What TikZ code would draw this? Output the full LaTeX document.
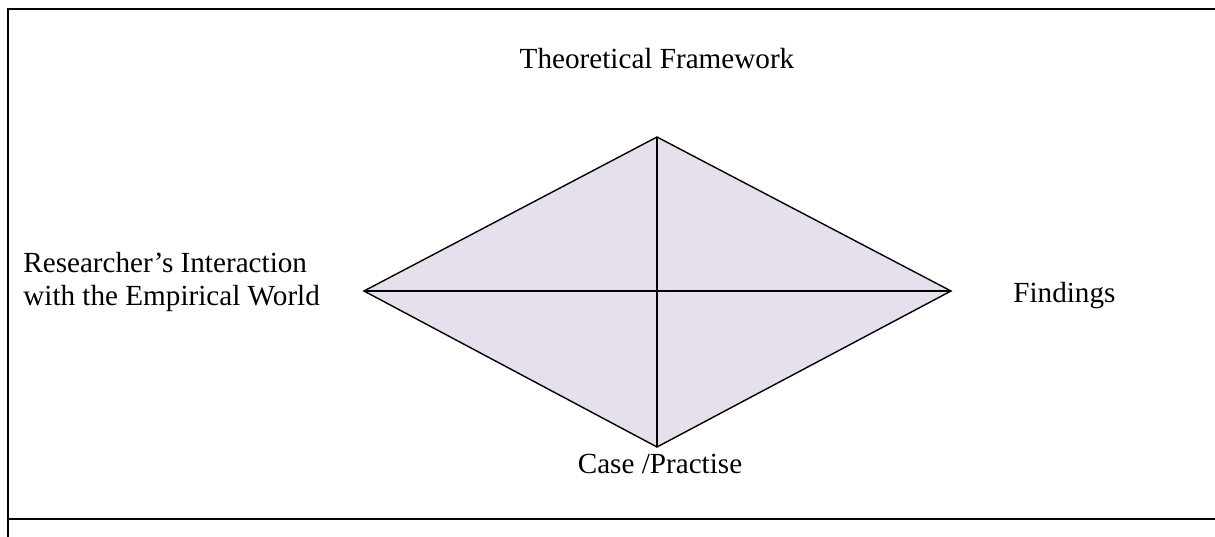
\documentclass[tikz,border=0pt]{standalone}
\usepackage{fontspec}
\setmainfont{Liberation Serif}
\usetikzlibrary{positioning}
\definecolor{lavfill}{RGB}{230,224,236}
\tikzset{
  frm/.style={line width=1.1pt},
  edge/.style={line width=0.8pt},
  lbl/.style={font=\fontsize{16.6}{18.8}\selectfont,inner sep=0pt},
}

\begin{document}
\begin{tikzpicture}[x=0.02cm,y=-0.02cm]
  \useasboundingbox (0,0) rectangle (1215,537);
  % outer frame, open on the right
  \coordinate (tl) at (8,9);
  \coordinate (tr) at (1215,9);
  \coordinate (bl) at (8,537);
  \coordinate (ml) at (8,519);
  \coordinate (mr) at (1215,519);
  \draw[frm] (tr) -- (tl) -- (bl);
  \draw[frm] (ml) -- (mr);
  % diamond
  \coordinate (top) at (657,137);
  \coordinate (bot) at (657,447);
  \coordinate (lft) at (364,291);
  \coordinate (rgt) at (951,291);
  \fill[lavfill] (top) -- (rgt) -- (bot) -- (lft) -- cycle;
  \draw[edge] (top) -- (rgt) -- (bot) -- (lft) -- cycle;
  \draw[edge] (top) -- (bot);
  \draw[edge] (lft) -- (rgt);
  % labels
  \node[lbl,anchor=base] (theory) at (657,69) {Theoretical Framework};
  \node[lbl,anchor=north west,align=left] (research) at (23,252)
    {Researcher's Interaction\\with the Empirical World};
  \node[lbl,anchor=base west] (find) at (1013,302) {Findings};
  \node[lbl,anchor=base] (case) at (660,473) {Case /Practise};
\end{tikzpicture}
\end{document}
